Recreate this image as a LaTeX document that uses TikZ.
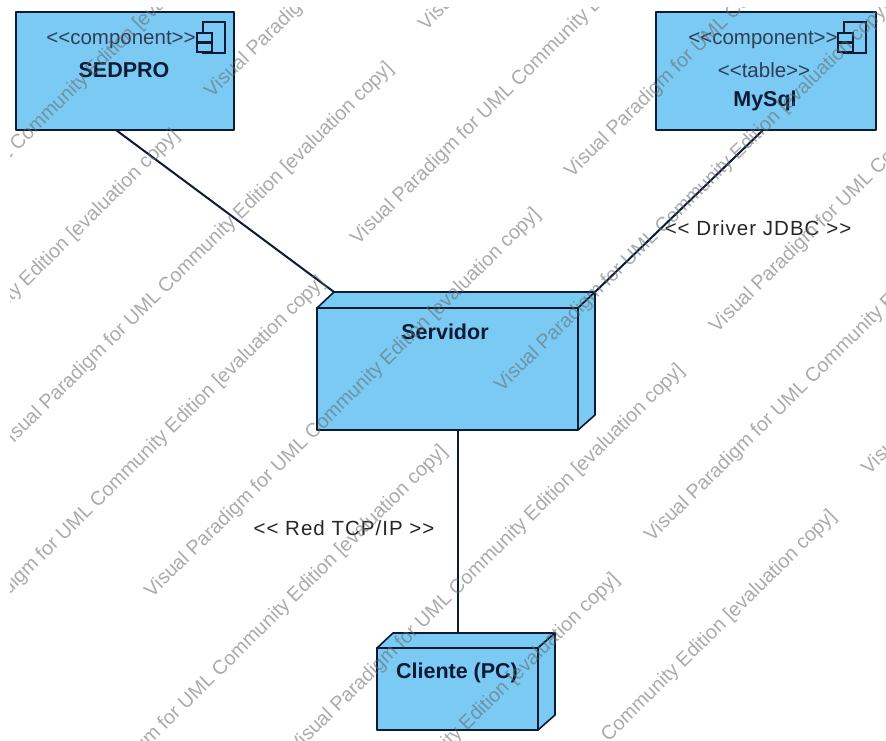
\documentclass[tikz,border=0pt]{standalone}
\usepackage{fontspec}
\setmainfont{Liberation Sans}
\newfontfamily\widefont[LetterSpace=5]{Liberation Sans}
\usetikzlibrary{calc}
\definecolor{boxfill}{HTML}{7BCAF3}
\definecolor{boxline}{HTML}{0B1B36}
\tikzset{
  x=1pt,y=-1pt,
  boxface/.style={draw=boxline,fill=boxfill,line width=1.6pt,line join=round},
  rectbox/.style={boxface,rectangle,inner sep=0pt,outer sep=0pt},
  tabpart/.style={draw=boxline,line width=1.3pt,fill=boxfill},
  link/.style={draw=boxline,line width=2pt},
  stereo/.style={inner sep=0pt,text=boxline!85!white,font=\fontsize{20.5}{20.5}\selectfont},
  title/.style={inner sep=0pt,text=boxline,font=\bfseries\fontsize{21.5}{21.5}\selectfont},
  linklabel/.style={inner sep=0pt,text=black!85,font=\widefont\fontsize{20.5}{21}\selectfont},
  watermark/.style={inner sep=0pt,outer sep=0pt,anchor=base west,rotate=44.5,text=black!60,text opacity=.55,font=\fontsize{19.8}{19.8}\selectfont},
}
\newcommand{\compicon}[1]{%
  \draw[tabpart,fill=none] ($(#1)+(6,0)$) rectangle ($(#1)+(28,31)$);
  \draw[tabpart] ($(#1)+(0,11)$) rectangle ($(#1)+(15,20)$);
  \draw[tabpart] ($(#1)+(0,21)$) rectangle ($(#1)+(15,30)$);
}
\begin{document}
\begin{tikzpicture}
\useasboundingbox (0,0) rectangle (886,740);
\fill[white] (0,0) rectangle (886,740);
\node[rectbox,minimum width=218pt,minimum height=118pt] (sedpro) at (125,71) {};
\node[rectbox,minimum width=220pt,minimum height=118pt] (mysql) at (766,71) {};
\node[rectbox,minimum width=261pt,minimum height=122pt] (servidor) at (447.5,369) {};
\node[rectbox,minimum width=161pt,minimum height=82pt] (cliente) at (457.5,689) {};
\coordinate (servidorTL) at ($(servidor.north west)+(17,-16)$);
\coordinate (servidorTR) at ($(servidor.north east)+(17,-16)$);
\coordinate (servidorBR) at ($(servidor.south east)+(17,-15)$);
\coordinate (clienteTL) at ($(cliente.north west)+(16,-15)$);
\coordinate (clienteTR) at ($(cliente.north east)+(17,-15)$);
\coordinate (clienteBR) at ($(cliente.south east)+(17,-15)$);
\draw[boxface] (servidor.north west) -- (servidorTL) -- (servidorTR) -- (servidor.north east) -- cycle;
\draw[boxface] (servidor.north east) -- (servidorTR) -- (servidorBR) -- (servidor.south east) -- cycle;
\draw[boxface] (cliente.north west) -- (clienteTL) -- (clienteTR) -- (cliente.north east) -- cycle;
\draw[boxface] (cliente.north east) -- (clienteTR) -- (clienteBR) -- (cliente.south east) -- cycle;
\draw[link] ($(sedpro.south)+(-9,0)$) -- (servidorTL);
\draw[link] ($(mysql.south)+(-3,0)$) -- (servidorTR);
\draw[link] (servidor.south -| cliente.north) -- ($(cliente.north)+(0,-15)$);
\coordinate (iconA) at (197,22);
\coordinate (iconB) at (838,22);
\compicon{iconA}
\compicon{iconB}
\node[stereo] (t1) at (121,40) {<{}<component>{}>};
\node[title] (t2) at (124,70) {SEDPRO};
\node[stereo] (t3) at (763,40) {<{}<component>{}>};
\node[stereo] (t4) at (764,70) {<{}<table>{}>};
\node[title] (t5) at (765,101) {MySql};
\node[title] (t6) at (445,332) {Servidor};
\node[title] (t7) at (457,673) {Cliente (PC)};
\node[linklabel] (l1) at (758,228) {<{}< Driver JDBC >{}>};
\node[linklabel] (l2) at (344,528) {<{}< Red TCP/IP >{}>};
\begin{scope}
\clip (10,7) rectangle (886,740);
\foreach \wx/\wy [count=\wi] in {
  -143/309, 278/-112,
  -209/519, 212/98,
  5/452, 426/31,
  -63/666, 358/245, 779/-176,
  152/598, 572/178,
  59/835, 502/392, 923/-29,
  296/754, 717/333,
  231/963, 652/542, 1073/121,
  448/900, 869/475}
  \node[watermark] (wm\wi) at (\wx,\wy) {Visual Paradigm for UML Community Edition [evaluation copy]};
\end{scope}
\end{tikzpicture}
\end{document}
